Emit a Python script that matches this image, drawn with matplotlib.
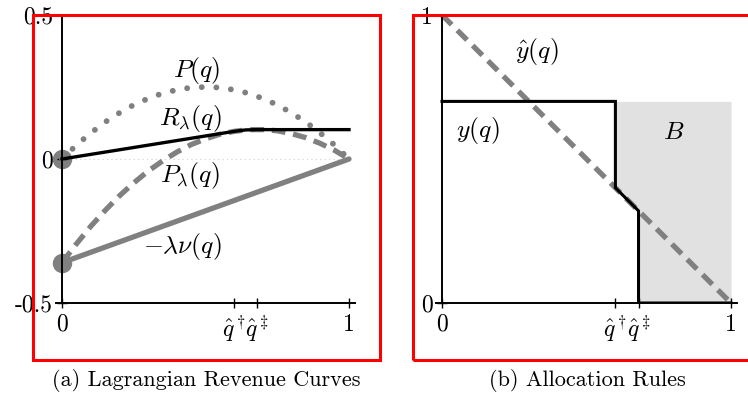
import numpy as np
import matplotlib
matplotlib.use('Agg')
import matplotlib.pyplot as plt
from matplotlib.patches import Rectangle

plt.rcParams['font.family'] = 'cmr10'
plt.rcParams['mathtext.fontset'] = 'cm'
plt.rcParams['axes.unicode_minus'] = False

GRAY = '#808080'

# quantile grid and curves
q = [0.0, 0.05, 0.10, 0.15, 0.20, 0.25, 0.30, 0.35, 0.40, 0.45, 0.50,
     0.55, 0.60, 0.65, 0.70, 0.75, 0.80, 0.85, 0.90, 0.95, 1.0]
P = [0.0, 0.048, 0.09, 0.128, 0.16, 0.188, 0.21, 0.228, 0.24, 0.248, 0.25,
     0.248, 0.24, 0.228, 0.21, 0.188, 0.16, 0.128, 0.09, 0.048, 0.0]
P_lam = [-0.36, -0.295, -0.234, -0.179, -0.128, -0.083, -0.042, -0.007, 0.024,
         0.05, 0.07, 0.086, 0.096, 0.102, 0.102, 0.098, 0.088, 0.074, 0.054,
         0.03, 0.0]
q_nu = [0.0, 1.0]
neg_lam_nu = [-0.36, 0.0]
q_R = [0.0, 0.60, 0.64, 0.68, 1.0]
R_lam = [0.0, 0.096, 0.101, 0.102, 0.102]

q_dag = 0.60
q_ddag = 0.68

# allocation rules
q_hat = [0.0, 1.0]
y_hat = [1.0, 0.0]
q_y = [0.0, 0.60, 0.60, 0.68, 0.68, 1.0]
y_q = [0.7, 0.7, 0.4, 0.32, 0.0, 0.0]
q_B = [0.60, 0.68, 0.68, 1.0]
B_low = [0.4, 0.32, 0.0, 0.0]
B_high = 0.7

W, H = 748, 395
fig = plt.figure(figsize=(W / 100, H / 100), dpi=100)


def px_axes(x0, x1, y_top, y_bot):
    return fig.add_axes([x0 / W, 1 - y_bot / H, (x1 - x0) / W, (y_bot - y_top) / H])


def style(ax):
    for s in ['top', 'right']:
        ax.spines[s].set_visible(False)
    ax.spines['left'].set_position(('data', 0))
    ax.spines['left'].set_linewidth(1.4)
    ax.spines['bottom'].set_linewidth(1.4)
    ax.tick_params(direction='inout', length=7, width=1, labelsize=17)
    ax.tick_params(axis='x', pad=4)
    ax.tick_params(axis='y', pad=3)
    ax.set_facecolor('none')


LBL = 18.5

# ---- (a) Lagrangian revenue curves
ax1 = px_axes(62 - 0.02 * 287, 349 + 0.02 * 287, 15, 303)
style(ax1)
ax1.set_xlim(-0.02, 1.02)
ax1.set_ylim(-0.5, 0.5)
ax1.plot([0, 1], [0, 0], color='#cfcfcf', lw=0.8, ls=(0, (1, 3)), zorder=1)
ax1.plot(q, P, color=GRAY, lw=4.2, ls=(0, (0.01, 2.5)), dash_capstyle='round', zorder=2)
ax1.plot(q, P_lam, color=GRAY, lw=3.8, ls=(0, (2.6, 1.5)), zorder=2)
ax1.plot(q_nu, neg_lam_nu, color=GRAY, lw=3.8, solid_capstyle='round', zorder=2)
ax1.plot(q_R, R_lam, color='black', lw=2.4, zorder=3)
ax1.plot([0, 0], [0, -0.36], 'o', color=GRAY, ms=13, zorder=1.5, clip_on=False)
ax1.set_xticks([0, q_dag, q_ddag, 1])
ax1.set_xticklabels(['0', r'$\hat{q}^\dagger$', r'$\hat{q}^\ddagger$', '1'])
ax1.set_yticks([-0.5, 0, 0.5])
ax1.set_yticklabels(['-0.5', '0', '0.5'])
ax1.text(0.47, 0.306, r'$P(q)$', fontsize=LBL, ha='center', va='center')
ax1.text(0.446, 0.139, r'$R_\lambda(q)$', fontsize=LBL, ha='center', va='center')
ax1.text(0.446, -0.059, r'$P_\lambda(q)$', fontsize=LBL, ha='center', va='center')
ax1.text(0.418, -0.305, r'$-\lambda\nu(q)$', fontsize=LBL, ha='center', va='center')

# ---- (b) allocation rules
ax2 = px_axes(442 - 0.02 * 289, 731 + 0.02 * 289, 15, 303)
style(ax2)
ax2.set_xlim(-0.02, 1.02)
ax2.set_ylim(0, 1)
ax2.fill_between(q_B, B_low, B_high, color='#e1e1e1', lw=0, zorder=0.5)
ax2.plot(q_hat, y_hat, color=GRAY, lw=3.8, ls=(0, (2.6, 1.5)), zorder=2)
ax2.plot(q_y, y_q, color='black', lw=2.2, zorder=3, solid_joinstyle='miter')
ax2.set_xticks([0, q_dag, q_ddag, 1])
ax2.set_xticklabels(['0', r'$\hat{q}^\dagger$', r'$\hat{q}^\ddagger$', '1'])
ax2.set_yticks([0, 1])
ax2.set_yticklabels(['0', '1'])
ax2.text(0.329, 0.872, r'$\hat{y}(q)$', fontsize=LBL, ha='center', va='center')
ax2.text(0.125, 0.60, r'$y(q)$', fontsize=LBL, ha='center', va='center')
ax2.text(0.80, 0.594, r'$B$', fontsize=LBL, ha='center', va='center')

# red frames around each panel, drawn on top
for x0, x1 in [(33, 380), (413, 760)]:
    fig.add_artist(Rectangle((x0 / W, 1 - 360 / H), (x1 - x0) / W, (360 - 15) / H,
                             transform=fig.transFigure, fill=False,
                             edgecolor='red', lw=2.2, zorder=10))

fig.text(206 / W, 1 - 380 / H, '(a) Lagrangian Revenue Curves', fontsize=16,
         ha='center', va='center')
fig.text(587 / W, 1 - 380 / H, '(b) Allocation Rules', fontsize=16,
         ha='center', va='center')

fig.savefig('out.png', dpi=100)
